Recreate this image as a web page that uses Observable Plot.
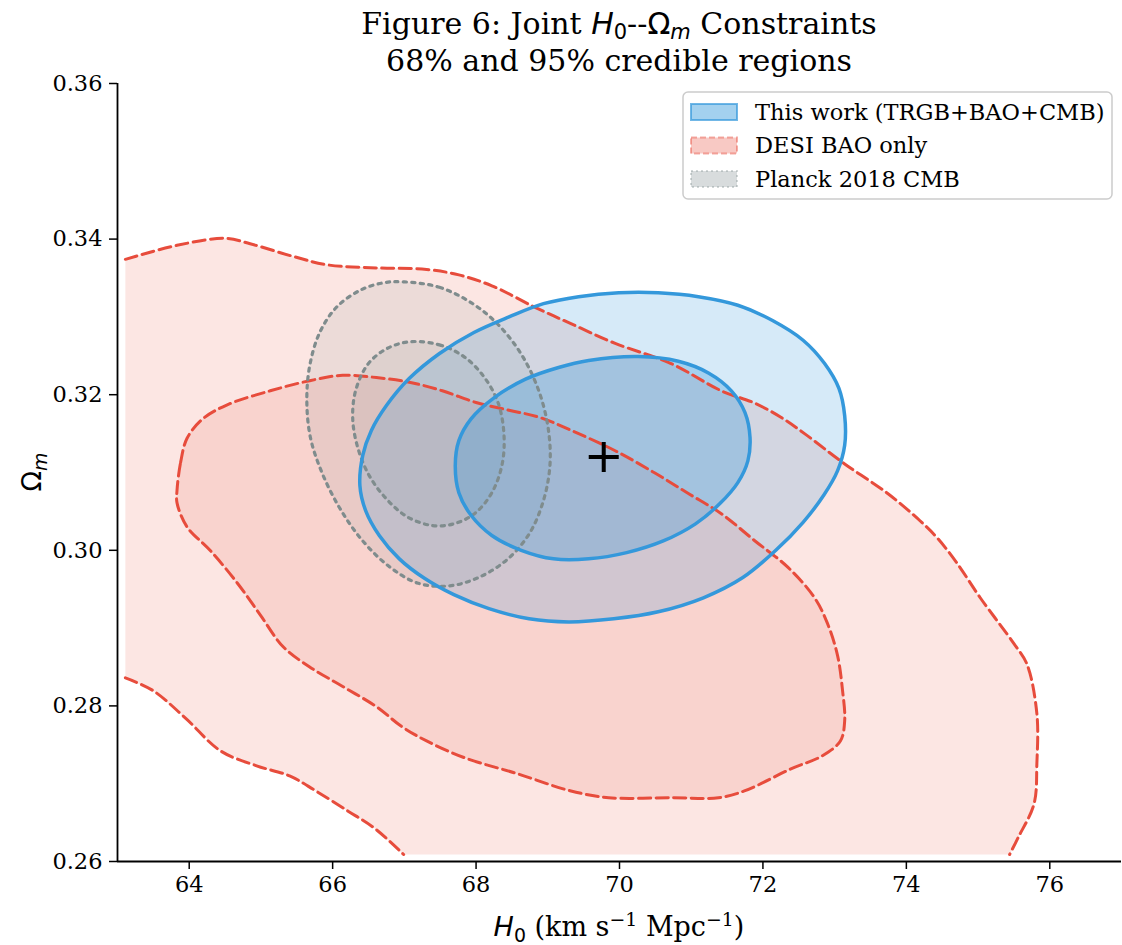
<!DOCTYPE html>
<html><head><meta charset="utf-8">
<script src="https://cdn.jsdelivr.net/npm/d3@7"></script>
<script src="https://cdn.jsdelivr.net/npm/@observablehq/plot@0.6"></script>
<style>
body{margin:0;background:#fff;}
#chart svg{display:block;}
</style>
</head><body><div id="chart"></div>
<script>
// ---------- data (H0 [km/s/Mpc], Omega_m) ----------
const xTicks = [64, 66, 68, 70, 72, 74, 76];
const yTicks = [0.26, 0.28, 0.30, 0.32, 0.34, 0.36];

// DESI BAO only, 95% contour: upper/right branch (left grid edge -> bottom grid edge)
const desi95Upper = [
  [63.11,0.3374],[63.83,0.3392],[64.50,0.3401],[64.85,0.3394],[65.44,0.3378],[65.92,0.3367],
  [66.61,0.3363],[67.31,0.3361],[67.76,0.3354],[68.22,0.3340],[68.83,0.3312],[69.33,0.3291],
  [69.94,0.3266],[70.72,0.3240],[71.42,0.3205],[71.89,0.3189],[72.25,0.3171],[72.58,0.3150],
  [73.14,0.3111],[73.74,0.3073],[74.19,0.3038],[74.43,0.3016],[74.71,0.2983],[75.03,0.2939],
  [75.50,0.2880],[75.68,0.2854],[75.82,0.2790],[75.82,0.2726],[75.78,0.2674],[75.56,0.2631],
  [75.44,0.2609]
];
// DESI BAO only, 95% contour: lower-left branch (left grid edge -> bottom grid edge)
const desi95Lower = [
  [63.11,0.2836],[63.49,0.2820],[63.94,0.2785],[64.44,0.2742],[64.94,0.2723],[65.40,0.2710],
  [65.76,0.2691],[66.21,0.2665],[66.58,0.2643],[66.99,0.2609]
];
// DESI BAO only, 68% contour
const desi68 = [
  [63.83,0.3077],[63.88,0.3113],[63.97,0.3144],[64.19,0.3169],[64.53,0.3187],[65.13,0.3205],
  [65.68,0.3218],[66.14,0.3225],[66.61,0.3222],[67.07,0.3216],[67.53,0.3205],[68.00,0.3190],
  [68.46,0.3180],[68.88,0.3171],[69.33,0.3154],[69.94,0.3128],[70.50,0.3099],[70.96,0.3073],
  [71.42,0.3047],[71.89,0.3012],[72.35,0.2978],[72.72,0.2939],[72.90,0.2906],[73.04,0.2865],
  [73.11,0.2820],[73.14,0.2781],[73.08,0.2755],[72.83,0.2736],[72.39,0.2719],[71.75,0.2691],
  [71.38,0.2682],[70.75,0.2682],[69.85,0.2682],[69.31,0.2691],[68.57,0.2713],[67.85,0.2733],
  [67.31,0.2755],[66.97,0.2773],[66.61,0.2799],[66.14,0.2825],[65.68,0.2850],[65.31,0.2876],
  [64.99,0.2917],[64.67,0.2958],[64.29,0.3000],[63.97,0.3030],[63.83,0.3061]
];
// This work (TRGB+BAO+CMB), 95% contour
const work95 = [
  [66.38,0.3083],[66.42,0.3122],[66.54,0.3154],[66.75,0.3186],[67.07,0.3221],[67.49,0.3253],
  [67.97,0.3280],[68.46,0.3300],[68.94,0.3317],[69.43,0.3326],[69.99,0.3331],[70.54,0.3331],
  [71.10,0.3326],[71.65,0.3315],[72.14,0.3295],[72.56,0.3270],[72.86,0.3240],[73.06,0.3208],
  [73.14,0.3173],[73.14,0.3135],[73.04,0.3102],[72.85,0.3071],[72.56,0.3036],[72.18,0.3000],
  [71.72,0.2965],[71.17,0.2939],[70.54,0.2921],[69.92,0.2912],[69.29,0.2908],[68.74,0.2912],
  [68.18,0.2925],[67.69,0.2943],[67.28,0.2964],[66.93,0.2989],[66.65,0.3019],[66.46,0.3051]
];
// This work (TRGB+BAO+CMB), 68% contour
const work68 = [
  [69.15,0.3235],[69.57,0.3244],[70.26,0.3249],[70.82,0.3243],[71.24,0.3228],[71.56,0.3205],
  [71.75,0.3177],[71.82,0.3145],[71.79,0.3115],[71.65,0.3087],[71.40,0.3060],[71.06,0.3034],
  [70.61,0.3012],[70.10,0.2997],[69.57,0.2989],[69.08,0.2989],[68.63,0.3000],[68.22,0.3019],
  [67.93,0.3045],[67.76,0.3074],[67.71,0.3109],[67.76,0.3141],[67.93,0.3169],[68.25,0.3196],
  [68.69,0.3220]
];
// Planck 2018 CMB, 95% contour
const planck95 = [
  [67.00,0.3345],[67.49,0.3338],[67.97,0.3316],[68.36,0.3285],[68.67,0.3246],[68.89,0.3201],
  [69.01,0.3154],[69.03,0.3109],[68.94,0.3064],[68.74,0.3021],[68.42,0.2987],[68.01,0.2964],
  [67.60,0.2954],[67.18,0.2958],[66.79,0.2979],[66.42,0.3012],[66.10,0.3054],[65.85,0.3100],
  [65.69,0.3145],[65.64,0.3192],[65.68,0.3237],[65.82,0.3280],[66.06,0.3313],[66.40,0.3335],
  [66.72,0.3344]
];
// Planck 2018 CMB, 68% contour
const planck68 = [
  [67.07,0.3268],[67.49,0.3264],[67.83,0.3249],[68.11,0.3223],[68.31,0.3189],[68.39,0.3147],
  [68.36,0.3109],[68.22,0.3074],[67.99,0.3048],[67.69,0.3034],[67.38,0.3032],[67.04,0.3043],
  [66.75,0.3066],[66.51,0.3096],[66.35,0.3132],[66.28,0.3169],[66.32,0.3205],[66.49,0.3239],
  [66.75,0.3259]
];
// best-fit point
const bestFit = [[69.78, 0.3120]];

const legendLabels = ["This work (TRGB+BAO+CMB)", "DESI BAO only", "Planck 2018 CMB"];

// ---------- styles ----------
const BLUE = "#3498db", RED = "#e74c3c", GRAY = "#7f8c8d";
const rows = a => a.map(([H0, Om]) => ({H0, Om}));
const desi95Poly = rows(desi95Upper.concat(desi95Lower.slice().reverse()));

const W = 1122, H = 945, mL = 117, mR = 1, mT = 83, mB = 84;
const serif = "DejaVu Serif", sans = "DejaVu Sans";

const plusSymbol = {
  draw(ctx, size) {
    const r = Math.sqrt(size / Math.PI);
    ctx.moveTo(-r, 0); ctx.lineTo(r, 0);
    ctx.moveTo(0, -r); ctx.lineTo(0, r);
  }
};

const fillOpt = (color, op) => ({x: "H0", y: "Om", fill: color, fillOpacity: op, stroke: "none"});
const dashed = {stroke: RED, strokeWidth: 3, strokeDasharray: "12,5.5"};
const dotted = {stroke: GRAY, strokeWidth: 3.2, strokeDasharray: "3.2,5.3"};
const solid = {stroke: BLUE, strokeWidth: 3.5};

const svgEl = Plot.plot({
  width: W, height: H,
  marginLeft: mL, marginRight: mR, marginTop: mT, marginBottom: mB,
  style: {fontFamily: serif, fontSize: "22.5px", color: "#000", background: "#fff"},
  x: {domain: [63, 77], ticks: xTicks, label: null},
  y: {domain: [0.26, 0.36], ticks: yTicks, label: null, tickFormat: d3.format(".2f")},
  marks: [
    // fills
    Plot.line(desi95Poly, {...fillOpt(RED, 0.14), curve: "linear-closed"}),
    Plot.line(rows(desi68), {...fillOpt(RED, 0.12), curve: "catmull-rom-closed"}),
    Plot.line(rows(planck95), {...fillOpt(GRAY, 0.12), curve: "catmull-rom-closed"}),
    Plot.line(rows(planck68), {...fillOpt(GRAY, 0.12), curve: "catmull-rom-closed"}),
    Plot.line(rows(work95), {...fillOpt(BLUE, 0.2), curve: "catmull-rom-closed"}),
    Plot.line(rows(work68), {...fillOpt(BLUE, 0.3), curve: "catmull-rom-closed"}),
    // contour lines
    Plot.line(rows(desi95Upper), {x: "H0", y: "Om", ...dashed, curve: "catmull-rom"}),
    Plot.line(rows(desi95Lower), {x: "H0", y: "Om", ...dashed, curve: "catmull-rom"}),
    Plot.line(rows(desi68), {x: "H0", y: "Om", ...dashed, curve: "catmull-rom-closed"}),
    Plot.line(rows(planck95), {x: "H0", y: "Om", ...dotted, curve: "catmull-rom-closed"}),
    Plot.line(rows(planck68), {x: "H0", y: "Om", ...dotted, curve: "catmull-rom-closed"}),
    Plot.line(rows(work95), {x: "H0", y: "Om", ...solid, curve: "catmull-rom-closed"}),
    Plot.line(rows(work68), {x: "H0", y: "Om", ...solid, curve: "catmull-rom-closed"}),
    // best fit
    Plot.dot(rows(bestFit), {x: "H0", y: "Om", symbol: plusSymbol, r: 15, stroke: "#000", strokeWidth: 4, fill: "none"}),
    // axes
    Plot.axisX({ticks: xTicks, tickSize: 8, tickPadding: 7, label: null, strokeWidth: 1.5}),
    Plot.axisY({ticks: yTicks, tickSize: 8, tickPadding: 7, label: null, tickFormat: d3.format(".2f"), strokeWidth: 1.5}),
    Plot.ruleX([63], {stroke: "#000", strokeWidth: 1.8}),
    Plot.ruleY([0.26], {stroke: "#000", strokeWidth: 1.8})
  ]
});
document.getElementById("chart").appendChild(svgEl);

// ---------- text annotations: title, axis labels, legend ----------
const svg = d3.select(svgEl);
const cx = mL + (W - mL - mR) / 2;

function rich(g, x, y, parts, opts = {}) {
  const t = g.append("text").attr("x", x).attr("y", y)
    .attr("text-anchor", opts.anchor || "middle").attr("fill", "#000")
    .attr("font-size", opts.size);
  if (opts.rotate) t.attr("transform", `rotate(${opts.rotate},${x},${y})`);
  let shift = 0;
  for (const p of parts) {
    const ts = t.append("tspan").text(p.t)
      .attr("font-family", p.f || serif)
      .attr("font-style", p.i ? "italic" : "normal")
      .attr("font-size", (p.s || 1) * opts.size);
    const want = p.dy || 0;
    if (want !== shift) { ts.attr("dy", want - shift); shift = want; }
  }
  return t;
}

// title
rich(svg, cx, 34, [
  {t: "Figure 6: Joint "},
  {t: "H", f: sans, i: true},
  {t: "0", f: sans, s: 0.7, dy: 5},
  {t: "--", dy: 0},
  {t: "Ω", f: sans},
  {t: "m", f: sans, i: true, s: 0.7, dy: 5},
  {t: " Constraints", dy: 0}
], {size: 30});
rich(svg, cx, 71, [{t: "68% and 95% credible regions"}], {size: 30});

// x label
rich(svg, cx, 936, [
  {t: "H", f: sans, i: true},
  {t: "0", f: sans, s: 0.7, dy: 6},
  {t: " (km s", dy: 0},
  {t: "−1", s: 0.7, dy: -10},
  {t: " Mpc", dy: 0},
  {t: "−1", s: 0.7, dy: -10},
  {t: ")", dy: 0}
], {size: 27});

// y label
rich(svg, 41, (mT + H - mB) / 2, [
  {t: "Ω", f: sans},
  {t: "m", f: sans, i: true, s: 0.7, dy: 6}
], {size: 27, rotate: -90});

// legend
const lg = svg.append("g");
lg.append("rect").attr("x", 683).attr("y", 92).attr("width", 429).attr("height", 107)
  .attr("rx", 5).attr("fill", "#fff").attr("fill-opacity", 0.85)
  .attr("stroke", "#cccccc").attr("stroke-width", 1.5);
const sw = [
  {fill: BLUE, fo: 0.45, stroke: BLUE, so: 0.7, dash: null},
  {fill: RED, fo: 0.3, stroke: RED, so: 0.45, dash: "6,3"},
  {fill: GRAY, fo: 0.3, stroke: GRAY, so: 0.35, dash: "2,3"}
];
legendLabels.forEach((lab, i) => {
  const yc = 112 + i * 33.5;
  const r = lg.append("rect").attr("x", 691).attr("y", yc - 8).attr("width", 46).attr("height", 16)
    .attr("fill", sw[i].fill).attr("fill-opacity", sw[i].fo)
    .attr("stroke", sw[i].stroke).attr("stroke-opacity", sw[i].so).attr("stroke-width", 2);
  if (sw[i].dash) r.attr("stroke-dasharray", sw[i].dash);
  lg.append("text").attr("x", 755).attr("y", yc).attr("dy", "0.35em")
    .attr("text-anchor", "start")
    .attr("font-family", serif).attr("font-size", 22.5).attr("fill", "#000").text(lab);
});
</script>
</body></html>
